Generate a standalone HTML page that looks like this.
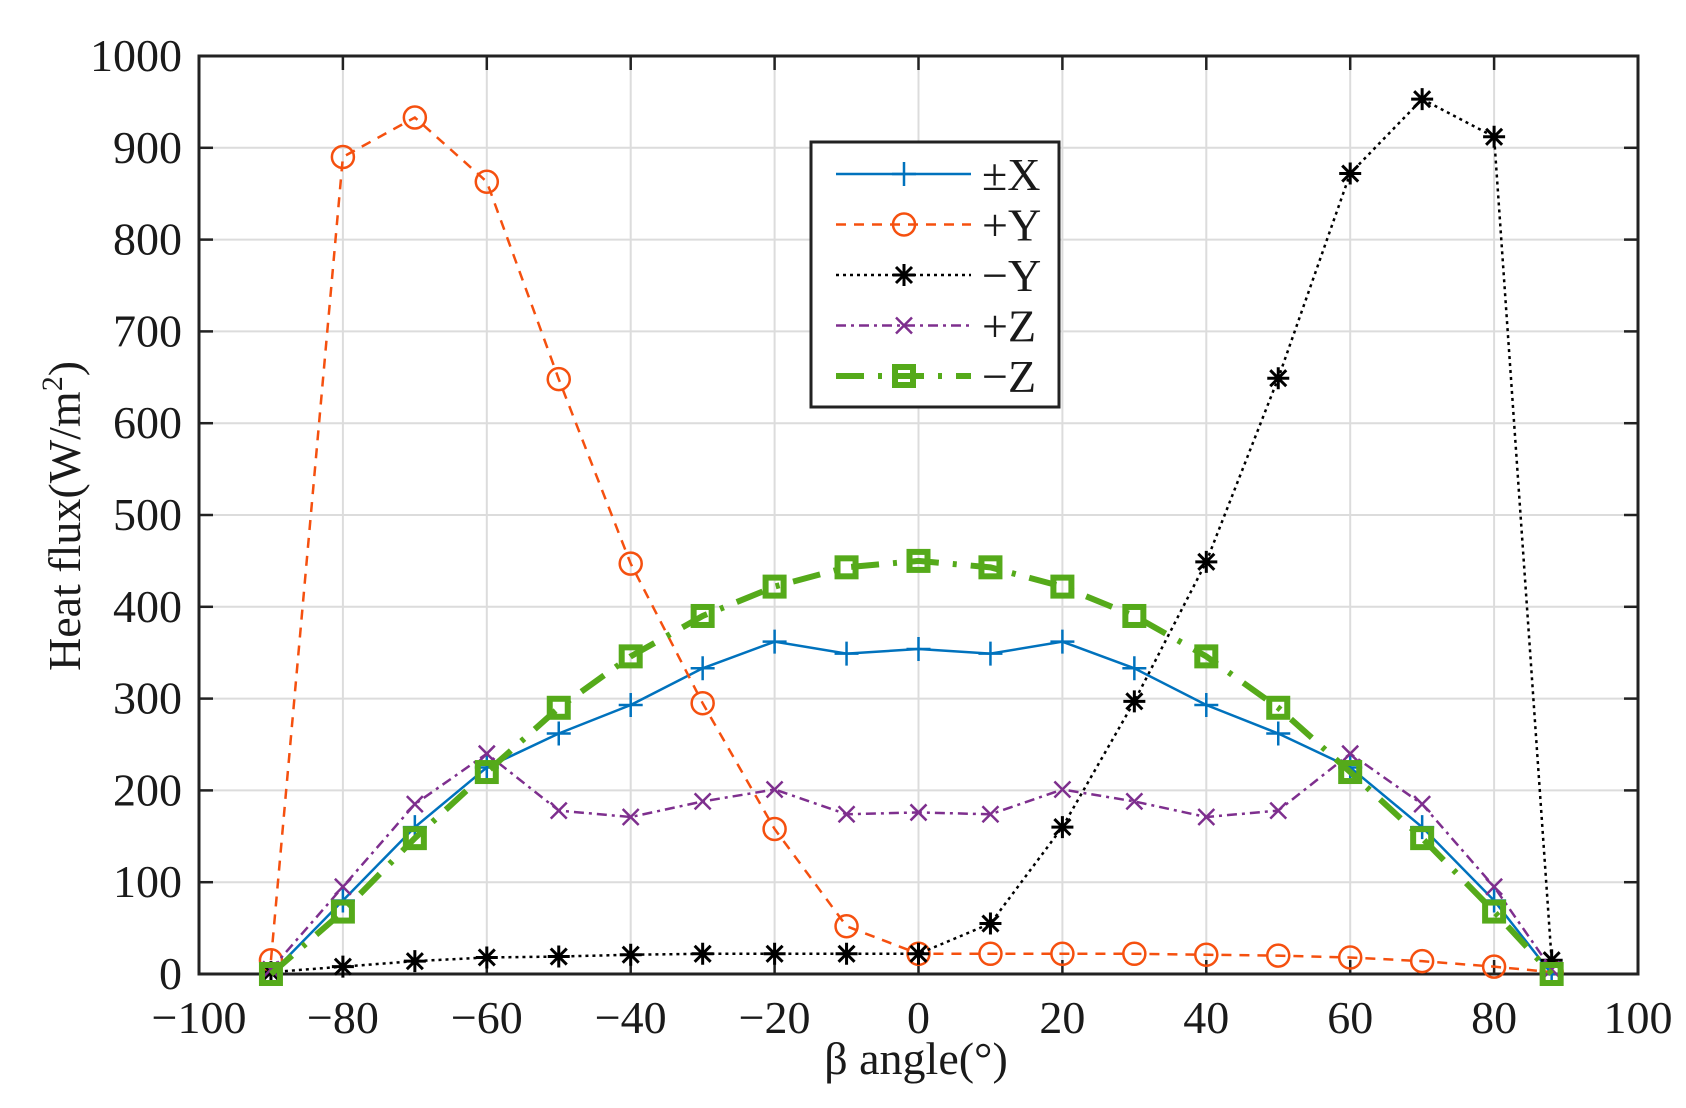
<!DOCTYPE html>
<html><head><meta charset="utf-8"><style>
html,body{margin:0;padding:0;background:#fff;}
svg{display:block;}
text{font-family:"Liberation Serif",serif;fill:#1a1a1a;}
</style></head><body>
<svg id="s" width="1686" height="1108" viewBox="0 0 1686 1108" xmlns="http://www.w3.org/2000/svg"></svg>
<script>
const s=document.getElementById('s');
const L=199,R=1638,T=56,B=974;
const X=v=>L+(v+100)*(R-L)/200, Y=v=>B-v*(B-T)/1000;
let h='';
for(let v=-100;v<=100;v+=20){const x=X(v);
 if(v>-100&&v<100)h+=`<line x1="${x}" y1="${T}" x2="${x}" y2="${B}" stroke="#dcdcdc" stroke-width="2"/>`;
 h+=`<line x1="${x}" y1="${B}" x2="${x}" y2="${B-14}" stroke="#222" stroke-width="2.5"/><line x1="${x}" y1="${T}" x2="${x}" y2="${T+14}" stroke="#222" stroke-width="2.5"/>`;
 h+=`<text x="${x}" y="1033" font-size="46" text-anchor="middle">${v<0?'−'+(-v):v}</text>`;}
for(let v=0;v<=1000;v+=100){const y=Y(v);
 if(v>0&&v<1000)h+=`<line x1="${L}" y1="${y}" x2="${R}" y2="${y}" stroke="#dcdcdc" stroke-width="2"/>`;
 h+=`<line x1="${L}" y1="${y}" x2="${L+14}" y2="${y}" stroke="#222" stroke-width="2.5"/><line x1="${R}" y1="${y}" x2="${R-14}" y2="${y}" stroke="#222" stroke-width="2.5"/>`;
 h+=`<text x="182" y="${y+15}" font-size="46" text-anchor="end">${v}</text>`;}
h+=`<rect x="${L}" y="${T}" width="${R-L}" height="${B-T}" fill="none" stroke="#222" stroke-width="3"/>`;
h+=`<text x="916" y="1074" font-size="46" text-anchor="middle">β angle(°)</text>`;
h+=`<text transform="translate(80,516) rotate(-90)" font-size="46" text-anchor="middle">Heat flux(W/m<tspan dy="-18" font-size="30">2</tspan><tspan dy="18">)</tspan></text>`;
const xs=[-90,-80,-70,-60,-50,-40,-30,-20,-10,0,10,20,30,40,50,60,70,80,88];
const S=[
 {c:'#0072BD',w:2.5,d:'',m:'plus',v:[0,80,160,225,262,293,333,362,349,354,349,362,333,293,262,225,160,80,0]},
 {c:'#F5500F',w:2.5,d:'10 8',m:'circ',v:[15,890,933,863,648,447,295,158,52,22,22,22,22,21,20,18,14,8,2]},
 {c:'#000',w:2.5,d:'3 4',m:'star',v:[2,8,14,18,19,21,22,22,22,22,55,160,297,449,649,872,953,912,15]},
 {c:'#7E2F8E',w:2.5,d:'10 5 3 5',m:'x',v:[5,95,185,240,178,171,188,201,174,176,174,201,188,171,178,240,185,95,5]},
 {c:'#55AA1A',w:6,d:'28 14 4 14',m:'sq',v:[0,68,148,220,290,346,390,422,443,450,443,422,390,346,290,220,148,68,0]}];
function mk(m,x,y,c){
 if(m=='plus')return `<path d="M${x-12} ${y}h24M${x} ${y-12}v24" stroke="${c}" stroke-width="2.5"/>`;
 if(m=='circ')return `<circle cx="${x}" cy="${y}" r="11" fill="none" stroke="${c}" stroke-width="2.5"/>`;
 if(m=='star')return `<path d="M${x-11} ${y}h22M${x} ${y-11}v22M${x-8} ${y-8}l16 16M${x-8} ${y+8}l16 -16" stroke="${c}" stroke-width="3"/>`;
 if(m=='x')return `<path d="M${x-8} ${y-8}l16 16M${x-8} ${y+8}l16 -16" stroke="${c}" stroke-width="2.5"/>`;
 return `<rect x="${x-9}" y="${y-9}" width="18" height="18" fill="none" stroke="${c}" stroke-width="6"/>`;}
for(const o of S){
 h+=`<polyline points="${xs.map((x,i)=>X(x)+','+Y(o.v[i])).join(' ')}" fill="none" stroke="${o.c}" stroke-width="${o.w}" stroke-dasharray="${o.d}"/>`;
 xs.forEach((x,i)=>h+=mk(o.m,X(x),Y(o.v[i]),o.c));}
h+=`<rect x="811" y="142" width="248" height="265" fill="#fff" stroke="#222" stroke-width="3"/>`;
const names=['±X','+Y','−Y','+Z','−Z'];
S.forEach((o,i)=>{const y=174+i*50.5;
 h+=`<line x1="836" y1="${y}" x2="971" y2="${y}" stroke="${o.c}" stroke-width="${o.w}" stroke-dasharray="${o.d}"/>`;
 h+=mk(o.m,904,y,o.c);
 h+=`<text x="982" y="${y+16}" font-size="46">${names[i]}</text>`;});
s.innerHTML=h;
</script>
</body></html>
